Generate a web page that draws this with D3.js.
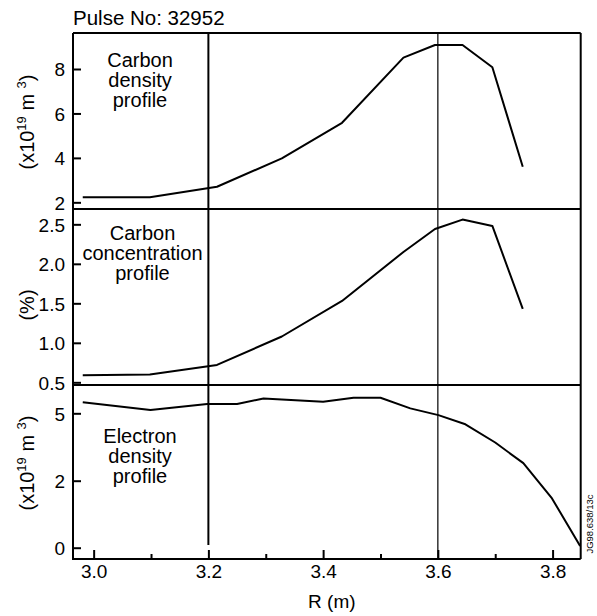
<!DOCTYPE html>
<html><head><meta charset="utf-8">
<script src="https://cdn.jsdelivr.net/npm/d3@7"></script>
<style>
body{margin:0;background:#fff;}
text{font-family:"Liberation Sans",Arial,Helvetica,sans-serif;fill:#000;}
</style></head>
<body>
<svg id="c" width="597" height="616"></svg>
<script>
// ---- data ----
const title = "Pulse No: 32952";
const sideNote = "JG98.638/13c";
const xLabel = "R (m)";
const xMajorTicks = [3.0, 3.2, 3.4, 3.6, 3.8];
const xMinorTicks = [3.1, 3.3, 3.5, 3.7];
const markerR = [3.2, 3.6];

const carbonDensityR   = [2.981, 3.098, 3.215, 3.328, 3.433, 3.540, 3.595, 3.643, 3.695, 3.748];
const carbonDensityVal = [2.23, 2.23, 2.70, 3.98, 5.58, 8.51, 9.08, 9.08, 8.08, 3.60];
const carbonDensityTicks = [2, 4, 6, 8];

const carbonConcR   = [2.981, 3.098, 3.215, 3.328, 3.433, 3.540, 3.595, 3.643, 3.695, 3.748];
const carbonConcVal = [0.59, 0.60, 0.72, 1.08, 1.53, 2.15, 2.44, 2.56, 2.48, 1.43];
const carbonConcTicks = [0.5, 1.0, 1.5, 2.0, 2.5];

const electronR   = [2.981, 3.099, 3.198, 3.25, 3.296, 3.40, 3.453, 3.50, 3.552, 3.601, 3.648, 3.70, 3.749, 3.799, 3.848];
const electronVal = [5.49, 5.15, 5.41, 5.41, 5.66, 5.51, 5.69, 5.69, 5.22, 4.92, 4.51, 3.70, 2.78, 1.47, 0.05];
const electronTicks = [0, 2, 5];

// ---- layout ----
const svg = d3.select("#c");
const L = 73, R = 580.7;
const x = d3.scaleLinear().domain([2.964, 3.849]).range([L, R]);

const panels = [
  {top:33, bot:209, y:d3.scaleLinear().domain([1.70, 9.62]).range([209, 33]),
   rs:carbonDensityR, vs:carbonDensityVal, ticks:carbonDensityTicks, fmt:d3.format("d"),
   label:["Carbon","density","profile"], lx:140, ly:66.7, ylab:"dens", ylabY:122},
  {top:209, bot:385, y:d3.scaleLinear().domain([0.466, 2.694]).range([385, 209]),
   rs:carbonConcR, vs:carbonConcVal, ticks:carbonConcTicks, fmt:d3.format(".1f"),
   label:["Carbon","concentration","profile"], lx:142.5, ly:240, ylab:"pct", ylabY:305},
  {top:385, bot:559, y:d3.scaleLinear().domain([-0.337, 2, 6.26]).range([559, 480.7, 385]),
   rs:electronR, vs:electronVal, ticks:electronTicks, fmt:d3.format("d"),
   label:["Electron","density","profile"], lx:140, ly:443, ylab:"dens", ylabY:463}
];

// title
svg.append("text").attr("x", L).attr("y", 25).attr("font-size", 20.5).text(title);

panels.forEach(p=>{
  const g = svg.append("g");
  // y axis
  const ax = d3.axisLeft(p.y).tickValues(p.ticks).tickFormat(p.fmt).tickSize(-8).tickPadding(8);
  const ga = g.append("g").attr("transform",`translate(${L},0)`).call(ax);
  ga.select(".domain").remove();
  ga.selectAll(".tick line").attr("stroke","#000").attr("stroke-width",2);
  ga.selectAll(".tick text").attr("font-size",19).attr("font-family","Liberation Sans, Arial, sans-serif").attr("fill","#000").attr("dy","0.36em");
  // data line
  const pts = p.rs.map((r,i)=>[r,p.vs[i]]);
  g.append("path").datum(pts)
    .attr("d", d3.line().x(d=>x(d[0])).y(d=>p.y(d[1])))
    .attr("fill","none").attr("stroke","#000").attr("stroke-width",2).attr("stroke-linejoin","round");
  // labels
  const t = g.append("text").attr("text-anchor","middle").attr("font-size",20);
  p.label.forEach((s,i)=>t.append("tspan").attr("x",p.lx).attr("y",p.ly+i*20).text(s));
  // y axis title
  const yt = g.append("text").attr("text-anchor","middle").attr("font-size",20)
    .attr("transform",`translate(34,${p.ylabY}) rotate(-90)`);
  if(p.ylab==="pct"){ yt.text("(%)"); }
  else {
    yt.append("tspan").text("(x10");
    yt.append("tspan").attr("font-size",13).attr("dy",-8).text("19");
    yt.append("tspan").attr("dy",8).text(" m  ");
    yt.append("tspan").attr("font-size",13).attr("dy",-8).text("3");
    yt.append("tspan").attr("dy",8).text(")");
  }
});

// vertical markers
svg.append("line").attr("x1",x(markerR[0])).attr("x2",x(markerR[0])).attr("y1",33).attr("y2",545)
  .attr("stroke","#000").attr("stroke-width",2);
svg.append("line").attr("x1",x(markerR[1])).attr("x2",x(markerR[1])).attr("y1",33).attr("y2",559)
  .attr("stroke","#000").attr("stroke-width",1.2);

// frame
const fr = svg.append("g").attr("stroke","#000").attr("fill","none");
fr.append("line").attr("x1",L).attr("x2",R).attr("y1",33).attr("y2",33).attr("stroke-width",2);
fr.append("line").attr("x1",R).attr("x2",R).attr("y1",33).attr("y2",559).attr("stroke-width",2);
fr.append("line").attr("x1",L).attr("x2",L).attr("y1",33).attr("y2",560).attr("stroke-width",2);
[209,385].forEach(yy=>fr.append("line").attr("x1",L).attr("x2",R).attr("y1",yy).attr("y2",yy).attr("stroke-width",2));

// x axis
const xa = d3.axisBottom(x).tickValues(xMajorTicks).tickFormat(d3.format(".1f")).tickSize(-9).tickPadding(6);
const gx = svg.append("g").attr("transform","translate(0,559)").call(xa);
gx.select(".domain").attr("d",`M${L},0H${R}`).attr("stroke","#000").attr("stroke-width",2);
gx.selectAll(".tick line").attr("stroke","#000").attr("stroke-width",2);
gx.selectAll(".tick text").attr("font-size",19).attr("font-family","Liberation Sans, Arial, sans-serif").attr("fill","#000");
const xm = d3.axisBottom(x).tickValues(xMinorTicks).tickFormat("").tickSize(-5);
const gm = svg.append("g").attr("transform","translate(0,559)").call(xm);
gm.select(".domain").remove();
gm.selectAll(".tick line").attr("stroke","#000").attr("stroke-width",2);

svg.append("text").attr("x",(L+R)/2+5).attr("y",608).attr("text-anchor","middle").attr("font-size",19).text(xLabel);

// side note
svg.append("text").attr("transform","translate(593,524) rotate(-90)").attr("text-anchor","middle")
  .attr("font-size",9.5).text(sideNote);
</script>
</body></html>
